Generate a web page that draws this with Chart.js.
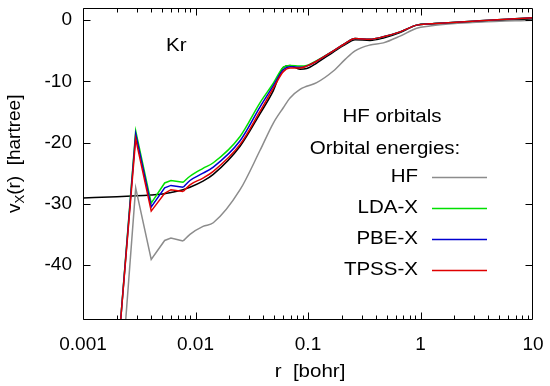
<!DOCTYPE html>
<html><head><meta charset="utf-8">
<script src="https://cdn.jsdelivr.net/npm/chart.js@4.4.0/dist/chart.umd.min.js"></script>
<style>html,body{margin:0;padding:0;background:#fff}#wrap{width:550px;height:386px}</style>
</head><body><div id="wrap"><canvas id="c" width="550" height="386"></canvas></div>
<script>
// r grid [bohr] for curves computed with HF orbitals
const radius = [0.0016, 0.00214, 0.00294, 0.00404, 0.00532, 0.00605, 0.00775, 0.00893, 0.01166, 0.01439, 0.0249, 0.0374, 0.0492, 0.0603, 0.0692, 0.0849, 0.0973, 0.1194, 0.168, 0.214, 0.262, 0.356, 0.468, 0.658, 0.925, 1.214, 1.49, 3.38, 10];
const spikeEnd = 6; // last index of the jagged inner-core part
const hfValues   = [-110, -61, -27.4, -39.1, -36.0, -35.6, -36.1, -35.0, -33.7, -33.1, -27.7, -21.3, -16.8, -14.3, -12.7, -11.3, -10.8, -10.2, -8.3, -6.4, -5.0, -4.05, -3.7, -2.6, -1.3, -0.95, -0.75, -0.3, 0.0];
const ldaValues  = [-85, -50, -18.1, -29.9, -26.6, -26.2, -26.5, -25.5, -24.2, -23.3, -19.0, -13.5, -10.3, -7.7, -7.4, -7.5, -7.4, -6.6, -5.0, -3.8, -3.0, -3.1, -2.7, -1.9, -0.8, -0.57, -0.5, -0.1, 0.4];
const pbeValues  = [-85, -50, -18.6, -30.5, -27.4, -27.0, -27.3, -26.2, -25.0, -24.0, -19.7, -14.2, -10.7, -8.1, -7.6, -7.7, -7.5, -6.7, -5.0, -3.8, -3.0, -3.1, -2.7, -1.9, -0.8, -0.57, -0.5, -0.1, 0.4];
const tpssValues = [-85, -50, -19.4, -31.2, -28.3, -27.7, -28.0, -26.9, -25.8, -24.7, -20.3, -14.9, -11.1, -8.4, -7.8, -7.8, -7.5, -6.7, -5.0, -3.8, -3.0, -3.1, -2.7, -1.9, -0.8, -0.57, -0.5, -0.1, 0.4];
// exact exchange potential (black)
const radiusExact = [0.001, 0.002, 0.003, 0.004, 0.00532, 0.00605, 0.00775, 0.00893, 0.01166, 0.01439, 0.0249, 0.0374, 0.0492, 0.0603, 0.0692, 0.0849, 0.0973, 0.1194, 0.168, 0.214, 0.262, 0.356, 0.468, 0.658, 0.925, 1.214, 1.49, 3.38, 10];
const exactValues = [-29.05, -28.85, -28.7, -28.55, -28.35, -28.15, -27.7, -27.3, -26.3, -25.2, -20.6, -15.3, -11.5, -7.7, -7.4, -8.0, -7.9, -7.0, -5.2, -4.0, -3.2, -3.3, -2.9, -2.0, -0.8, -0.6, -0.5, -0.2, 0.2];

const xTicks = [0.001, 0.01, 0.1, 1, 10];
const yTicks = [-40, -30, -20, -10, 0];
const legendNames = ['HF', 'LDA-X', 'PBE-X', 'TPSS-X'];
const legendColors = ['#8c8c8c', '#00e000', '#0000d0', '#e00000'];

const FONT = '"Liberation Sans", Arial, Helvetica, sans-serif';
const LW = 1.5;

function pts(rs, vs, a, b) {
  const out = [];
  for (let i = a; i < b; i++) out.push({x: rs[i], y: vs[i]});
  return out;
}
function seriesSets(vals, color) {
  return [
    {data: pts(radius, vals, 0, spikeEnd + 1), borderColor: color, borderWidth: LW, tension: 0, pointRadius: 0},
    {data: pts(radius, vals, spikeEnd, radius.length), borderColor: color, borderWidth: LW, cubicInterpolationMode: 'monotone', pointRadius: 0}
  ];
}
const datasets = [
  ...seriesSets(tpssValues, legendColors[3]),
  ...seriesSets(pbeValues, legendColors[2]),
  ...seriesSets(ldaValues, legendColors[1]),
  ...seriesSets(hfValues, legendColors[0]),
  {data: pts(radiusExact, exactValues, 0, radiusExact.length), borderColor: '#000', borderWidth: LW, cubicInterpolationMode: 'monotone', pointRadius: 0}
];

function drawText(ctx, s, x, y, align, sx) {
  ctx.save();
  ctx.translate(x, y);
  ctx.scale(sx || 1, 1);
  ctx.textAlign = align;
  ctx.textBaseline = 'middle';
  ctx.fillText(s, 0, 0);
  ctx.restore();
}

const decor = {
  id: 'decor',
  afterDraw(chart) {
    const {ctx, chartArea: ca, scales: {x, y}} = chart;
    const L = Math.round(ca.left) + 0.5, R = Math.round(ca.right) - 0.5;
    const T = Math.round(ca.top) + 0.5, B = Math.round(ca.bottom) - 0.5;
    ctx.save();
    ctx.strokeStyle = '#000';
    ctx.lineWidth = 1;
    ctx.beginPath();
    ctx.rect(L, T, R - L, B - T);
    for (let e = -3; e <= 0; e++) {
      for (let m = 1; m <= 9; m++) {
        const v = m * Math.pow(10, e);
        const px = Math.round(x.getPixelForValue(v)) + 0.5;
        const len = m === 1 ? 7 : 4;
        ctx.moveTo(px, B); ctx.lineTo(px, B - len);
        ctx.moveTo(px, T); ctx.lineTo(px, T + len);
      }
    }
    yTicks.forEach(v => {
      const py = Math.round(y.getPixelForValue(v)) + 0.5;
      ctx.moveTo(L, py); ctx.lineTo(L + 7, py);
      ctx.moveTo(R, py); ctx.lineTo(R - 7, py);
    });
    ctx.stroke();

    ctx.fillStyle = '#000';
    ctx.font = '19px ' + FONT;
    const SX = 1.08;
    drawText(ctx, 'Kr', 166, 46, 'left', SX);
    drawText(ctx, 'HF orbitals', 392, 117, 'center', SX);
    drawText(ctx, 'Orbital energies:', 385, 149, 'center', SX);
    legendNames.forEach((n, i) => {
      const yy = 177 + 31 * i;
      drawText(ctx, n, 418, yy, 'right', SX);
      ctx.strokeStyle = legendColors[i];
      ctx.lineWidth = LW;
      ctx.beginPath();
      ctx.moveTo(432, yy + 0.5); ctx.lineTo(487, yy + 0.5);
      ctx.stroke();
    });
    drawText(ctx, 'r  [bohr]', 310, 372, 'center', SX);
    ctx.save();
    ctx.translate(15, 213);
    ctx.rotate(-Math.PI / 2);
    ctx.textBaseline = 'middle';
    ctx.textAlign = 'left';
    ctx.font = '19px ' + FONT;
    let cx = 0;
    ctx.fillText('v', cx, 0); cx += ctx.measureText('v').width;
    ctx.font = '13px ' + FONT;
    ctx.fillText('X', cx, 5); cx += ctx.measureText('X').width;
    ctx.font = '19px ' + FONT;
    ctx.fillText('(r)  [hartree]', cx, 0);
    ctx.restore();
    ctx.restore();
  }
};

new Chart(document.getElementById('c'), {
  type: 'line',
  data: {datasets},
  options: {
    responsive: false,
    animation: false,
    layout: {autoPadding: false, padding: {top: 8, right: 17, left: 0, bottom: 0}},
    plugins: {legend: {display: false}, tooltip: {enabled: false}},
    scales: {
      x: {
        type: 'logarithmic', min: 0.001, max: 10,
        afterBuildTicks: s => { s.ticks = xTicks.map(v => ({value: v})); },
        afterFit: s => { s.height = 66; s.paddingLeft = 0; s.paddingRight = 0; s.paddingTop = 0; s.paddingBottom = 0; },
        grid: {display: false, drawTicks: false},
        border: {display: false},
        ticks: {font: {family: FONT, size: 19}, color: '#000', padding: 13, maxRotation: 0, autoSkip: false, callback: v => String(v)}
      },
      y: {
        min: -49, max: 2,
        afterBuildTicks: s => { s.ticks = yTicks.map(v => ({value: v})); },
        afterFit: s => { s.width = 83; s.paddingLeft = 0; s.paddingRight = 0; s.paddingTop = 0; s.paddingBottom = 0; },
        grid: {display: false, drawTicks: false},
        border: {display: false},
        ticks: {font: {family: FONT, size: 19}, color: '#000', padding: 11, autoSkip: false, callback: v => String(v)}
      }
    }
  },
  plugins: [decor]
});
</script>
</body></html>
